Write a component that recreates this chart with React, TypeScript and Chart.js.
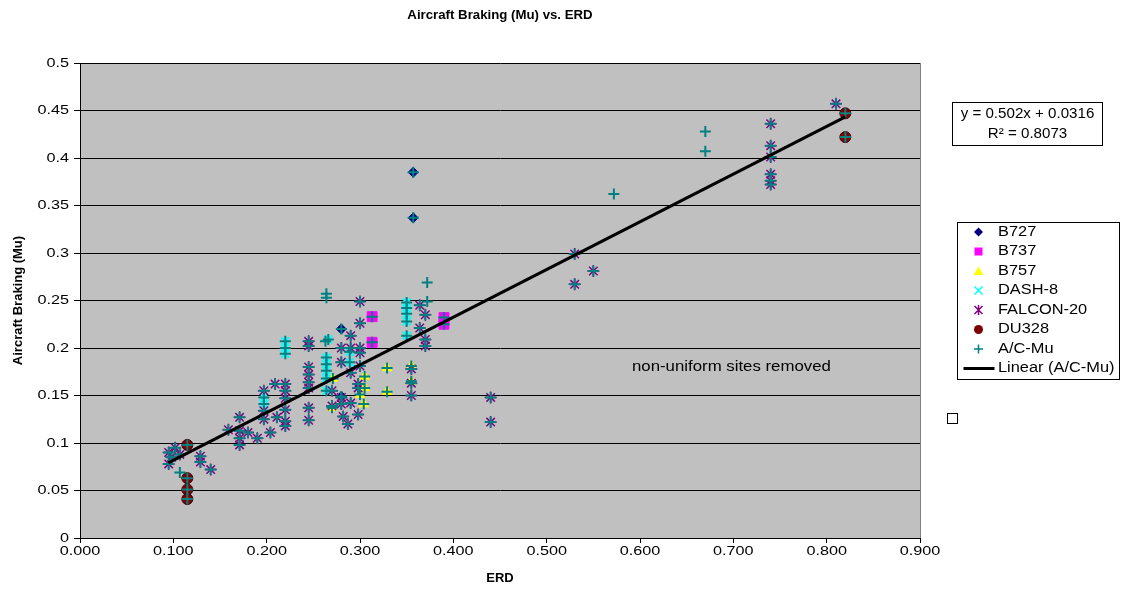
import React, { useEffect, useRef } from "react";
import { Chart, registerables } from "chart.js";

Chart.register(...registerables);

const TITLE = "Aircraft Braking (Mu) vs. ERD";
const X_TITLE = "ERD";
const Y_TITLE = "Aircraft Braking (Mu)";
const NOTE = "non-uniform sites removed";
const EQUATION = "y = 0.502x + 0.0316";
const R2_TEXT = "R² = 0.8073";
const SLOPE = 0.502;
const INTERCEPT = 0.0316;
const TREND_X = [0.0946, 0.82];

const X_TICK_LABELS = ["0.000", "0.100", "0.200", "0.300", "0.400", "0.500", "0.600", "0.700", "0.800", "0.900"];
const Y_TICK_LABELS = ["0", "0.05", "0.1", "0.15", "0.2", "0.25", "0.3", "0.35", "0.4", "0.45", "0.5"];

const b727: number[][] = [[0.357, 0.385], [0.357, 0.337], [0.28, 0.22], [0.28, 0.149]];
const b737: number[][] = [[0.313, 0.233], [0.313, 0.206], [0.39, 0.232], [0.39, 0.225]];
const b757: number[][] = [
  [0.271, 0.168], [0.27, 0.137], [0.3, 0.151], [0.304, 0.141], [0.305, 0.158], [0.305, 0.17],
  [0.329, 0.179], [0.329, 0.154], [0.355, 0.181], [0.355, 0.165],
];
const dash8: number[][] = [
  [0.22, 0.207], [0.22, 0.2], [0.22, 0.194], [0.197, 0.148], [0.197, 0.141], [0.266, 0.209],
  [0.264, 0.19], [0.264, 0.183], [0.264, 0.176], [0.264, 0.168], [0.264, 0.155], [0.289, 0.196],
  [0.289, 0.185], [0.35, 0.248], [0.35, 0.242], [0.35, 0.236], [0.35, 0.228], [0.35, 0.213],
];
const falcon20: number[][] = [
  [0.095, 0.09], [0.102, 0.095], [0.095, 0.078], [0.098, 0.085], [0.107, 0.088], [0.129, 0.086],
  [0.129, 0.08], [0.14, 0.072], [0.159, 0.114], [0.171, 0.127], [0.171, 0.113], [0.171, 0.105],
  [0.171, 0.098], [0.18, 0.111], [0.19, 0.105], [0.197, 0.155], [0.197, 0.134], [0.197, 0.125],
  [0.204, 0.111], [0.209, 0.162], [0.211, 0.127], [0.22, 0.162], [0.22, 0.155], [0.22, 0.147],
  [0.22, 0.135], [0.22, 0.123], [0.22, 0.118], [0.245, 0.207], [0.245, 0.202], [0.245, 0.18],
  [0.245, 0.172], [0.245, 0.164], [0.245, 0.158], [0.245, 0.137], [0.245, 0.124], [0.27, 0.155],
  [0.27, 0.139], [0.28, 0.2], [0.28, 0.185], [0.28, 0.148], [0.28, 0.141], [0.282, 0.128],
  [0.287, 0.12], [0.29, 0.213], [0.29, 0.2], [0.29, 0.174], [0.29, 0.142], [0.298, 0.162],
  [0.298, 0.158], [0.298, 0.13], [0.3, 0.249], [0.3, 0.226], [0.3, 0.2], [0.3, 0.195],
  [0.3, 0.181], [0.355, 0.178], [0.355, 0.163], [0.355, 0.15], [0.364, 0.245], [0.364, 0.221],
  [0.37, 0.235], [0.37, 0.209], [0.37, 0.202], [0.44, 0.148], [0.44, 0.122], [0.53, 0.299],
  [0.53, 0.267], [0.55, 0.281], [0.74, 0.436], [0.74, 0.413], [0.74, 0.401], [0.74, 0.383],
  [0.74, 0.376], [0.74, 0.372], [0.81, 0.457],
];
const du328: number[][] = [[0.115, 0.098], [0.115, 0.063], [0.115, 0.051], [0.115, 0.041], [0.82, 0.447], [0.82, 0.422]];
const acMuOnly: number[][] = [
  [0.107, 0.069], [0.264, 0.257], [0.264, 0.253], [0.263, 0.207], [0.372, 0.269], [0.372, 0.249],
  [0.572, 0.362], [0.67, 0.428], [0.67, 0.407],
];

const NAVY = "#000080";
const MAGENTA = "#FF00FF";
const YELLOW = "#FFFF00";
const CYAN = "#00FFFF";
const PURPLE = "#800080";
const DARKRED = "#800000";
const TEAL = "#008080";

const pts = (a: number[][]) => a.map(([x, y]) => ({ x, y }));

const REG = "Liberation Sans, Arial, sans-serif";

function sText(ctx: CanvasRenderingContext2D, text: string, x: number, y: number, font: string, align: CanvasTextAlign, sx = 1.2) {
  ctx.save();
  ctx.font = font;
  ctx.fillStyle = "#000";
  ctx.textBaseline = "middle";
  ctx.translate(x, y);
  ctx.scale(sx, 1);
  ctx.textAlign = align;
  ctx.fillText(text, 0, 0);
  ctx.restore();
}

function marker(ctx: CanvasRenderingContext2D, kind: string, x: number, y: number, color: string) {
  ctx.save();
  ctx.fillStyle = color;
  ctx.strokeStyle = color;
  ctx.beginPath();
  if (kind === "diamond") {
    ctx.moveTo(x, y - 4.5); ctx.lineTo(x + 4.5, y); ctx.lineTo(x, y + 4.5); ctx.lineTo(x - 4.5, y); ctx.closePath(); ctx.fill();
  } else if (kind === "square") {
    ctx.fillRect(x - 4, y - 4, 8, 8);
  } else if (kind === "triangle") {
    ctx.moveTo(x, y - 4.5); ctx.lineTo(x + 5, y + 4); ctx.lineTo(x - 5, y + 4); ctx.closePath(); ctx.fill();
  } else if (kind === "x") {
    ctx.lineWidth = 1.5;
    ctx.moveTo(x - 4, y - 4); ctx.lineTo(x + 4, y + 4); ctx.moveTo(x + 4, y - 4); ctx.lineTo(x - 4, y + 4); ctx.stroke();
  } else if (kind === "star") {
    ctx.lineWidth = 1.5;
    ctx.moveTo(x - 4, y - 4); ctx.lineTo(x + 4, y + 4); ctx.moveTo(x + 4, y - 4); ctx.lineTo(x - 4, y + 4);
    ctx.moveTo(x, y - 5); ctx.lineTo(x, y + 5); ctx.stroke();
  } else if (kind === "circle") {
    ctx.arc(x, y, 4.5, 0, Math.PI * 2); ctx.fill();
  } else if (kind === "plus") {
    ctx.lineWidth = 1.5;
    ctx.moveTo(x - 4.5, y); ctx.lineTo(x + 4.5, y); ctx.moveTo(x, y - 4.5); ctx.lineTo(x, y + 4.5); ctx.stroke();
  } else if (kind === "line") {
    ctx.lineWidth = 3;
    ctx.strokeStyle = "#000";
    ctx.moveTo(x - 15, y); ctx.lineTo(x + 16, y); ctx.stroke();
  }
  ctx.restore();
}

const LEGEND_KINDS = [
  ["diamond", NAVY], ["square", MAGENTA], ["triangle", YELLOW], ["x", CYAN],
  ["star", PURPLE], ["circle", DARKRED], ["plus", TEAL], ["line", "#000"],
];

const decor = {
  id: "decor",
  beforeDraw(chart: any) {
    const { ctx, chartArea: a } = chart;
    ctx.save();
    ctx.fillStyle = "#fff";
    ctx.fillRect(0, 0, chart.width, chart.height);
    ctx.fillStyle = "#C0C0C0";
    ctx.fillRect(a.left, a.top, a.right - a.left, a.bottom - a.top);
    ctx.restore();
  },
  afterDraw(chart: any) {
    const { ctx, chartArea: a } = chart;
    const xs = chart.scales.x;
    const ys = chart.scales.y;
    ctx.save();
    ctx.strokeStyle = "#808080";
    ctx.lineWidth = 1;
    ctx.beginPath();
    ctx.moveTo(a.right + 0.5, a.top);
    ctx.lineTo(a.right + 0.5, a.bottom);
    ctx.stroke();
    ctx.restore();

    const tickFont = `13.5px ${REG}`;
    ys.ticks.forEach((t: any) => {
      sText(ctx, String(t.label), 69, ys.getPixelForValue(t.value), tickFont, "right");
    });
    xs.ticks.forEach((t: any) => {
      sText(ctx, String(t.label), xs.getPixelForValue(t.value), 551, tickFont, "center");
    });

    const midX = (a.left + a.right) / 2;
    sText(ctx, TITLE, midX, 15, `bold 13.5px ${REG}`, "center", 0.98);
    sText(ctx, X_TITLE, midX, 578, `bold 13px ${REG}`, "center", 1.0);
    ctx.save();
    ctx.translate(18, (a.top + a.bottom) / 2);
    ctx.rotate(-Math.PI / 2);
    sText(ctx, Y_TITLE, 0, 0, `bold 13px ${REG}`, "center", 1.0);
    ctx.restore();

    sText(ctx, NOTE, 632, 367, `14px ${REG}`, "left");

    // equation box
    ctx.save();
    ctx.strokeStyle = "#000";
    ctx.lineWidth = 1;
    ctx.fillStyle = "#fff";
    ctx.fillRect(952.5, 102.5, 150, 43);
    ctx.strokeRect(952.5, 102.5, 150, 43);
    ctx.restore();
    sText(ctx, EQUATION, 1027.5, 114, `14px ${REG}`, "center", 1.08);
    sText(ctx, R2_TEXT, 1027.5, 134, `14px ${REG}`, "center", 1.08);

    // legend box
    ctx.save();
    ctx.strokeStyle = "#000";
    ctx.lineWidth = 1;
    ctx.fillStyle = "#fff";
    ctx.fillRect(957.5, 222.5, 162, 157);
    ctx.strokeRect(957.5, 222.5, 162, 157);
    ctx.restore();
    chart.data.datasets.forEach((ds: any, i: number) => {
      const y = 232 + i * 19.5;
      const [kind, color] = LEGEND_KINDS[i];
      marker(ctx, kind, 978.5, y, color);
      sText(ctx, ds.label, 998, y, `14px ${REG}`, "left", 1.17);
    });

    ctx.save();
    ctx.strokeStyle = "#000";
    ctx.lineWidth = 1;
    ctx.strokeRect(947.5, 413.5, 10, 10);
    ctx.restore();
  },
};

export default function App() {
  const ref = useRef<HTMLCanvasElement | null>(null);
  useEffect(() => {
    document.body.style.margin = "0";
    const canvas = ref.current;
    if (!canvas) return;
    const acMu = [...b727, ...b737, ...b757, ...dash8, ...falcon20, ...du328, ...acMuOnly];
    const chart = new Chart(canvas, {
      type: "scatter",
      data: {
        datasets: [
          { label: "B727", data: pts(b727), pointStyle: "rectRot", pointRadius: 5, backgroundColor: NAVY, borderColor: NAVY, borderWidth: 1, order: 7 },
          { label: "B737", data: pts(b737), pointStyle: "rect", pointRadius: 7, backgroundColor: MAGENTA, borderColor: MAGENTA, borderWidth: 1, order: 6 },
          { label: "B757", data: pts(b757), pointStyle: "triangle", pointRadius: 5.5, backgroundColor: YELLOW, borderColor: YELLOW, borderWidth: 1, order: 5 },
          { label: "DASH-8", data: pts(dash8), pointStyle: "crossRot", pointRadius: 5.5, backgroundColor: CYAN, borderColor: CYAN, borderWidth: 2, order: 4 },
          { label: "FALCON-20", data: pts(falcon20), pointStyle: "star", pointRadius: 6, backgroundColor: PURPLE, borderColor: PURPLE, borderWidth: 1.5, order: 3 },
          { label: "DU328", data: pts(du328), pointStyle: "circle", pointRadius: 5.5, backgroundColor: DARKRED, borderColor: "#400000", borderWidth: 1, order: 2 },
          { label: "A/C-Mu", data: pts(acMu), pointStyle: "cross", pointRadius: 5.5, backgroundColor: TEAL, borderColor: TEAL, borderWidth: 2, order: 1 },
          {
            label: "Linear (A/C-Mu)",
            type: "line",
            data: TREND_X.map((x) => ({ x, y: SLOPE * x + INTERCEPT })),
            borderColor: "#000",
            borderWidth: 3,
            pointRadius: 0,
            showLine: true,
            fill: false,
            order: 0,
          } as any,
        ],
      },
      options: {
        responsive: false,
        animation: false,
        events: [],
        layout: { padding: { top: 63, right: 207, bottom: 0, left: 0 } },
        plugins: { legend: { display: false }, title: { display: false }, tooltip: { enabled: false } },
        scales: {
          x: {
            type: "linear",
            min: 0,
            max: 0.9,
            afterFit: (s: any) => { s.height = 54; },
            ticks: { stepSize: 0.1, display: false, callback: (_v: any, i: number) => X_TICK_LABELS[i] },
            grid: { display: true, drawOnChartArea: false, drawTicks: true, tickLength: 5, color: "#000" },
            border: { display: true, color: "#000", width: 1 },
          },
          y: {
            type: "linear",
            min: 0,
            max: 0.5,
            afterFit: (s: any) => { s.width = 80; },
            ticks: { stepSize: 0.05, display: false, callback: (_v: any, i: number) => Y_TICK_LABELS[i] },
            grid: { display: true, drawTicks: true, tickLength: 6, color: "#000", lineWidth: 1 },
            border: { display: true, color: "#000", width: 1 },
          },
        },
      },
      plugins: [decor],
    });
    return () => chart.destroy();
  }, []);
  return <canvas ref={ref} width={1127} height={592} style={{ display: "block" }} />;
}
